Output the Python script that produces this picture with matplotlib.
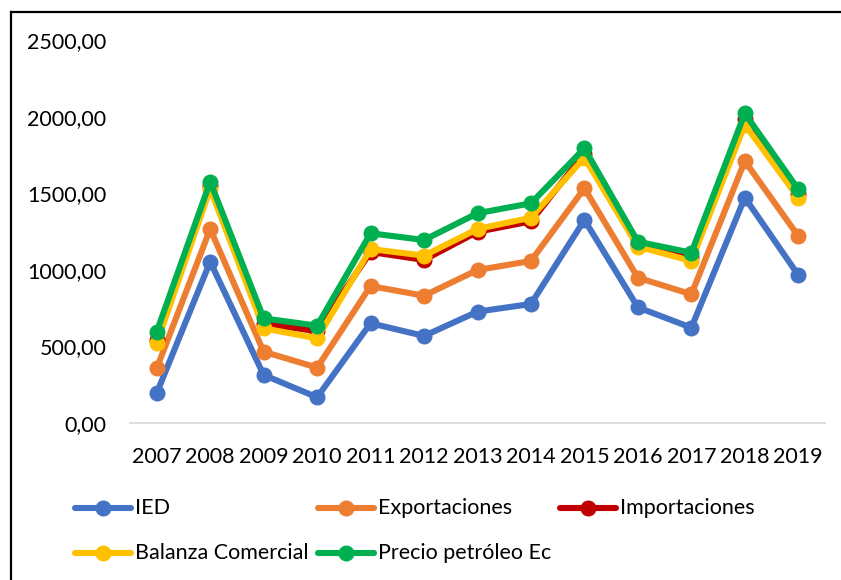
import matplotlib
matplotlib.use("Agg")
import matplotlib.pyplot as plt
from matplotlib.lines import Line2D

plt.rcParams['font.family'] = ['Lato', 'DejaVu Sans']

years = [2007, 2008, 2009, 2010, 2011, 2012, 2013, 2014, 2015, 2016, 2017, 2018, 2019]
ied = [196, 1054, 314, 168, 652, 569, 728, 778, 1327, 756, 623, 1473, 967]
exportaciones = [357, 1268, 466, 362, 895, 832, 1000, 1059, 1534, 950, 841, 1712, 1222]
importaciones = [545, 1550, 650, 600, 1118, 1066, 1250, 1318, 1760, 1168, 1085, 1990, 1500]
balanza = [521, 1530, 619, 553, 1137, 1094, 1268, 1342, 1735, 1153, 1059, 1950, 1473]
petroleo = [597, 1577, 684, 636, 1240, 1196, 1371, 1436, 1795, 1185, 1113, 2024, 1527]

series = [
    ("IED", ied, "#4472C4"),
    ("Exportaciones", exportaciones, "#ED7D31"),
    ("Importaciones", importaciones, "#C00000"),
    ("Balanza Comercial", balanza, "#FFC000"),
    ("Precio petróleo Ec", petroleo, "#00B050"),
]

W, H = 841, 580
fig = plt.figure(figsize=(W / 100, H / 100), dpi=100)
ax = fig.add_axes([130 / W, 1 - 423 / H, (825 - 130) / W, (423 - 40.5) / H])

x = list(range(len(years)))
for name, vals, col in series:
    ax.plot(x, vals, color=col, lw=4.4, marker='o', ms=10.5,
            solid_capstyle='round', solid_joinstyle='round', label=name)

ax.set_xlim(-0.5, len(years) - 0.5)
ax.set_ylim(0, 2500)
ax.set_yticks([0, 500, 1000, 1500, 2000, 2500])
ax.set_yticklabels([f"{v:.2f}".replace('.', ',') for v in [0, 500, 1000, 1500, 2000, 2500]])
ax.set_xticks(x)
ax.set_xticklabels([str(y) for y in years])
ax.tick_params(axis='both', length=0, labelsize=15.5, colors='black')
ax.tick_params(axis='y', pad=17)
ax.tick_params(axis='x', pad=17)
for s in ['top', 'right', 'left']:
    ax.spines[s].set_visible(False)
ax.spines['bottom'].set_color('#D9D9D9')
ax.spines['bottom'].set_linewidth(1.3)
ax.spines['bottom'].set_zorder(0)

# legend, three columns
leg_pos = [(75, 508), (318, 508), (560, 508), (75, 553), (318, 553)]
for (name, vals, col), (lx, ly) in zip(series, leg_pos):
    yf = 1 - ly / H
    fig.add_artist(Line2D([lx / W, (lx + 56) / W], [yf, yf], transform=fig.transFigure,
                          color=col, lw=4.4, solid_capstyle='round'))
    fig.add_artist(Line2D([(lx + 28) / W], [yf], transform=fig.transFigure,
                          color=col, marker='o', ms=10.5, lw=0))
    fig.text((lx + 60) / W, yf, name, fontsize=15.5, va='center', ha='left', color='black')

# chart frame
fig.add_artist(Line2D([11 / W, 11 / W], [0, 1 - 12 / H], transform=fig.transFigure,
                      color='black', lw=1.6))
fig.add_artist(Line2D([11 / W, 1], [1 - 12 / H, 1 - 12 / H], transform=fig.transFigure,
                      color='black', lw=1.6))

fig.savefig("out.png", dpi=100)
